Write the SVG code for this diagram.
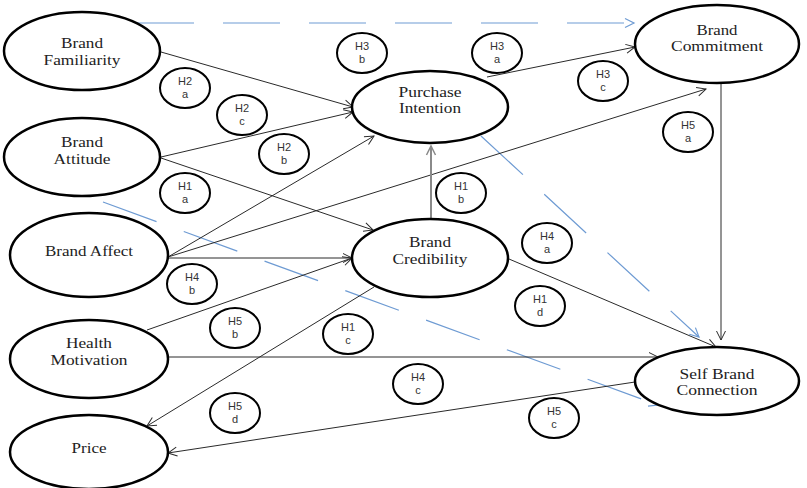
<svg xmlns="http://www.w3.org/2000/svg" width="807" height="488" viewBox="0 0 807 488">
<style>
.node ellipse{fill:#fff;stroke:#000;stroke-width:2.5}
.node text{font-family:"Liberation Serif","Times New Roman",serif;font-size:14px;fill:#222;text-anchor:middle}
.hyp ellipse{fill:#fff;stroke:#000;stroke-width:2}
.hyp text{font-family:"Liberation Sans",Arial,sans-serif;font-size:11px;fill:#333;text-anchor:middle}
.c{fill:none;stroke:#2a2a2a;stroke-width:1;marker-end:url(#ah)}
.g{fill:none;stroke:#8a8a8a;stroke-width:2;marker-end:url(#ahg)}
.b{fill:none;stroke:#6e9bd3;stroke-width:1.2;stroke-dasharray:57 29;marker-end:url(#ahb)}
</style>
<defs>
<marker id="ah" markerUnits="userSpaceOnUse" markerWidth="12" markerHeight="12" refX="10" refY="6" orient="auto"><path d="M1,1.5 L10,6 L1,10.5" fill="none" stroke="#2a2a2a" stroke-width="1"/></marker>
<marker id="ahg" markerUnits="userSpaceOnUse" markerWidth="12" markerHeight="12" refX="10" refY="6" orient="auto"><path d="M1,1.5 L10,6 L1,10.5" fill="none" stroke="#8a8a8a" stroke-width="1.5"/></marker>
<marker id="ahb" markerUnits="userSpaceOnUse" markerWidth="12" markerHeight="12" refX="10" refY="6" orient="auto"><path d="M1,1.5 L10,6 L1,10.5" fill="none" stroke="#6e9bd3" stroke-width="1.2"/></marker>
</defs>
<rect width="807" height="488" fill="#fff"/>
<g id="connectors">
<line class="b" x1="137" y1="23" x2="634" y2="23"/>
<line class="b" x1="103" y1="202" x2="658" y2="405"/>
<line class="b" x1="481" y1="136" x2="699" y2="337"/>
<line class="c" x1="161" y1="52" x2="353" y2="107"/>
<line class="c" x1="161" y1="157" x2="353" y2="112"/>
<line class="c" x1="161" y1="158" x2="373" y2="230"/>
<line class="c" x1="168" y1="257" x2="374" y2="136"/>
<line class="c" x1="168" y1="257" x2="706" y2="89"/>
<line class="c" x1="168" y1="258" x2="352" y2="258"/>
<line class="c" x1="147" y1="330" x2="352" y2="258"/>
<line class="c" x1="168" y1="357" x2="658" y2="357"/>
<line class="c" x1="374" y1="287" x2="147" y2="426"/>
<line class="c" x1="635" y1="382" x2="168" y2="453"/>
<line class="c" x1="509" y1="259" x2="716" y2="347"/>
<line class="c" x1="721" y1="84" x2="721" y2="340"/>
<line class="c" x1="487" y1="77" x2="635" y2="47"/>
<line class="g" x1="431" y1="220" x2="431" y2="146"/>
</g>
<g id="brand-familiarity" class="node"><ellipse cx="82" cy="51" rx="78" ry="39"/><text x="82" y="48" textLength="42" lengthAdjust="spacingAndGlyphs">Brand</text><text x="82" y="65" textLength="77" lengthAdjust="spacingAndGlyphs">Familiarity</text></g>
<g id="brand-attitude" class="node"><ellipse cx="82" cy="157" rx="78" ry="39"/><text x="82" y="147" textLength="42" lengthAdjust="spacingAndGlyphs">Brand</text><text x="82" y="164" textLength="57" lengthAdjust="spacingAndGlyphs">Attitude</text></g>
<g id="brand-affect" class="node"><ellipse cx="89" cy="255" rx="79" ry="42"/><text x="89" y="256" textLength="88" lengthAdjust="spacingAndGlyphs">Brand Affect</text></g>
<g id="health-motivation" class="node"><ellipse cx="89" cy="359" rx="79" ry="39"/><text x="89" y="348" textLength="46" lengthAdjust="spacingAndGlyphs">Health</text><text x="89" y="365" textLength="77" lengthAdjust="spacingAndGlyphs">Motivation</text></g>
<g id="price" class="node"><ellipse cx="89" cy="452" rx="79" ry="37"/><text x="89" y="453" textLength="35" lengthAdjust="spacingAndGlyphs">Price</text></g>
<g id="purchase-intention" class="node"><ellipse cx="430" cy="107" rx="78" ry="36"/><text x="430" y="97" textLength="63" lengthAdjust="spacingAndGlyphs">Purchase</text><text x="430" y="113" textLength="62" lengthAdjust="spacingAndGlyphs">Intention</text></g>
<g id="brand-commitment" class="node"><ellipse cx="717" cy="44" rx="82" ry="39"/><text x="717" y="35" textLength="41" lengthAdjust="spacingAndGlyphs">Brand</text><text x="717" y="51" textLength="92" lengthAdjust="spacingAndGlyphs">Commitment</text></g>
<g id="brand-credibility" class="node"><ellipse cx="430" cy="258" rx="78" ry="39"/><text x="430" y="247" textLength="42" lengthAdjust="spacingAndGlyphs">Brand</text><text x="430" y="264" textLength="75" lengthAdjust="spacingAndGlyphs">Credibility</text></g>
<g id="self-brand-connection" class="node"><ellipse cx="717" cy="381" rx="82" ry="34"/><text x="717" y="379" textLength="75" lengthAdjust="spacingAndGlyphs">Self Brand</text><text x="717" y="395" textLength="81" lengthAdjust="spacingAndGlyphs">Connection</text></g>
<g id="h3b" class="hyp"><ellipse cx="362" cy="53" rx="25" ry="20"/><text x="362" y="50">H3</text><text x="362" y="63">b</text></g>
<g id="h2a" class="hyp"><ellipse cx="185" cy="88" rx="25" ry="20"/><text x="185" y="85">H2</text><text x="185" y="98">a</text></g>
<g id="h2c" class="hyp"><ellipse cx="242" cy="115" rx="25" ry="20"/><text x="242" y="112">H2</text><text x="242" y="125">c</text></g>
<g id="h2b" class="hyp"><ellipse cx="284" cy="154" rx="25" ry="20"/><text x="284" y="151">H2</text><text x="284" y="164">b</text></g>
<g id="h1a" class="hyp"><ellipse cx="185" cy="193" rx="25" ry="20"/><text x="185" y="190">H1</text><text x="185" y="203">a</text></g>
<g id="h3a" class="hyp"><ellipse cx="497" cy="53" rx="25" ry="20"/><text x="497" y="50">H3</text><text x="497" y="63">a</text></g>
<g id="h3c" class="hyp"><ellipse cx="603" cy="81" rx="25" ry="20"/><text x="603" y="78">H3</text><text x="603" y="91">c</text></g>
<g id="h5a" class="hyp"><ellipse cx="688" cy="132" rx="25" ry="20"/><text x="688" y="129">H5</text><text x="688" y="142">a</text></g>
<g id="h1b" class="hyp"><ellipse cx="461" cy="193" rx="25" ry="20"/><text x="461" y="190">H1</text><text x="461" y="203">b</text></g>
<g id="h4a" class="hyp"><ellipse cx="547" cy="243" rx="25" ry="20"/><text x="547" y="240">H4</text><text x="547" y="253">a</text></g>
<g id="h1d" class="hyp"><ellipse cx="540" cy="306" rx="25" ry="20"/><text x="540" y="303">H1</text><text x="540" y="316">d</text></g>
<g id="h4b" class="hyp"><ellipse cx="192" cy="284" rx="25" ry="20"/><text x="192" y="281">H4</text><text x="192" y="294">b</text></g>
<g id="h5b" class="hyp"><ellipse cx="235" cy="328" rx="25" ry="20"/><text x="235" y="325">H5</text><text x="235" y="338">b</text></g>
<g id="h1c" class="hyp"><ellipse cx="348" cy="334" rx="25" ry="20"/><text x="348" y="331">H1</text><text x="348" y="344">c</text></g>
<g id="h5d" class="hyp"><ellipse cx="235" cy="413" rx="25" ry="20"/><text x="235" y="410">H5</text><text x="235" y="423">d</text></g>
<g id="h4c" class="hyp"><ellipse cx="418" cy="384" rx="25" ry="20"/><text x="418" y="381">H4</text><text x="418" y="394">c</text></g>
<g id="h5c" class="hyp"><ellipse cx="554" cy="418" rx="25" ry="20"/><text x="554" y="415">H5</text><text x="554" y="428">c</text></g>
</svg>
